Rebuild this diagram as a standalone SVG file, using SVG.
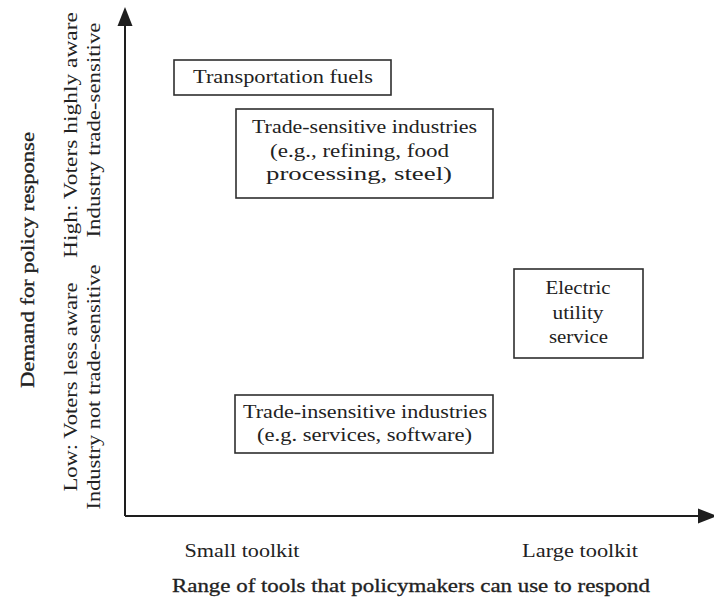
<svg xmlns="http://www.w3.org/2000/svg" width="714" height="607" viewBox="0 0 714 607">
  <defs>
    <style>
      text { font-family: "Liberation Serif", "Times New Roman", serif; font-size: 18px; fill: #222; }
      .mid { text-anchor: middle; }
      .strong { stroke: #222; stroke-width: 0.3; }
      .box { fill: #fff; stroke: #2e2e2e; stroke-width: 1.6; }
      .axis { stroke: #1e1e1e; stroke-width: 2; fill: none; }
    </style>
  </defs>
  <rect width="714" height="607" fill="#fff"/>

  <!-- axes -->
  <g id="axes">
    <path class="axis" d="M125,516 V10"/>
    <polygon points="125,7 117.5,26 132.5,26" fill="#1e1e1e"/>
    <path class="axis" d="M125,516 H700"/>
    <polygon points="717,516 698,508.5 698,523.5" fill="#1e1e1e"/>
  </g>

  <!-- vertical axis labels -->
  <g id="y-labels">
    <text class="mid strong" transform="translate(34,260) rotate(-90)" textLength="256" lengthAdjust="spacingAndGlyphs">Demand for policy response</text>
    <text class="mid" transform="translate(77,135) rotate(-90)" textLength="246" lengthAdjust="spacingAndGlyphs">High: Voters highly aware</text>
    <text class="mid" transform="translate(100,130) rotate(-90)" textLength="215" lengthAdjust="spacingAndGlyphs">Industry trade-sensitive</text>
    <text class="mid" transform="translate(77,387) rotate(-90)" textLength="209" lengthAdjust="spacingAndGlyphs">Low: Voters less aware</text>
    <text class="mid" transform="translate(100,387) rotate(-90)" textLength="245" lengthAdjust="spacingAndGlyphs">Industry not trade-sensitive</text>
  </g>

  <!-- horizontal axis labels -->
  <g id="x-labels">
    <text class="mid" x="242" y="557" textLength="115" lengthAdjust="spacingAndGlyphs">Small toolkit</text>
    <text class="mid" x="580" y="557" textLength="116" lengthAdjust="spacingAndGlyphs">Large toolkit</text>
    <text class="mid strong" x="411" y="592" textLength="478" lengthAdjust="spacingAndGlyphs">Range of tools that policymakers can use to respond</text>
  </g>

  <!-- nodes -->
  <g id="transportation-fuels">
    <rect class="box" x="174" y="60" width="217" height="35"/>
    <text class="mid" x="283" y="83" textLength="180" lengthAdjust="spacingAndGlyphs">Transportation fuels</text>
  </g>

  <g id="trade-sensitive">
    <rect class="box" x="236" y="109" width="257" height="89"/>
    <text class="mid" x="364.5" y="133" textLength="225" lengthAdjust="spacingAndGlyphs">Trade-sensitive industries</text>
    <text class="mid" x="359.5" y="157" textLength="179" lengthAdjust="spacingAndGlyphs">(e.g., refining, food</text>
    <text class="mid" x="359" y="180" textLength="186" lengthAdjust="spacingAndGlyphs">processing, steel)</text>
  </g>

  <g id="electric-utility">
    <rect class="box" x="514" y="269" width="129" height="89"/>
    <text class="mid" x="578" y="294" textLength="65" lengthAdjust="spacingAndGlyphs">Electric</text>
    <text class="mid" x="578" y="319" textLength="51" lengthAdjust="spacingAndGlyphs">utility</text>
    <text class="mid" x="578.5" y="343" textLength="59" lengthAdjust="spacingAndGlyphs">service</text>
  </g>

  <g id="trade-insensitive">
    <rect class="box" x="235" y="395" width="258" height="58"/>
    <text class="mid" x="365" y="418" textLength="244" lengthAdjust="spacingAndGlyphs">Trade-insensitive industries</text>
    <text class="mid" x="364.5" y="441" textLength="215" lengthAdjust="spacingAndGlyphs">(e.g. services, software)</text>
  </g>
</svg>
